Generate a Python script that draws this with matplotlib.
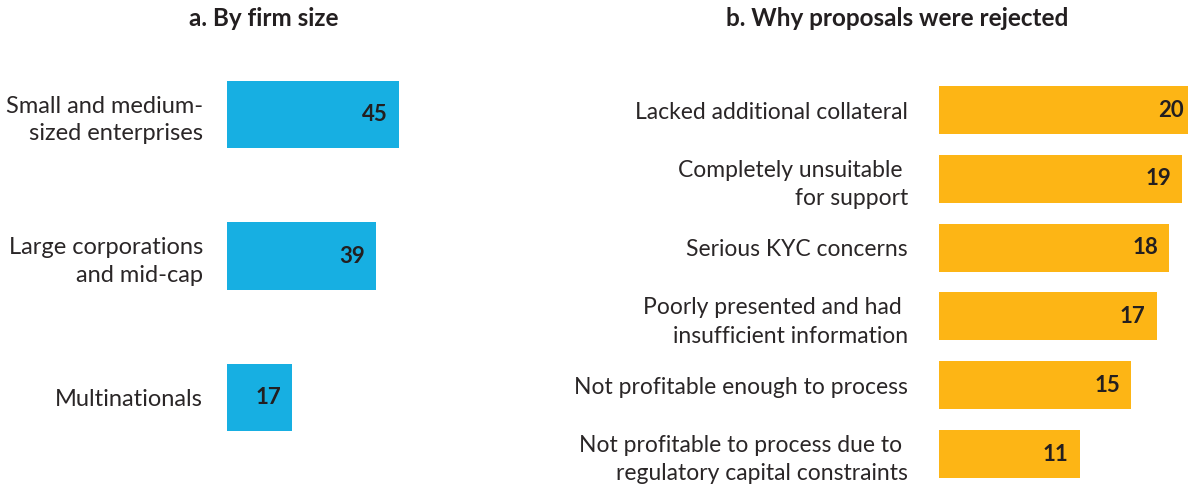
import matplotlib.pyplot as plt

plt.rcParams['font.family'] = ['Lato', 'DejaVu Sans']

# panel a
size_labels = ['Small and medium-\nsized enterprises', 'Large corporations\nand mid-cap', 'Multinationals']
size_values = [45, 39, 17]

# panel b
reason_labels = ['Lacked additional collateral',
                 'Completely unsuitable \nfor support',
                 'Serious KYC concerns',
                 'Poorly presented and had \ninsufficient information',
                 'Not profitable enough to process',
                 'Not profitable to process due to \nregulatory capital constraints']
reason_values = [20, 19, 18, 17, 15, 11]

W, H = 1188, 487
blue = '#17afe2'
orange = '#fdb515'
txt = '#231f20'

fig = plt.figure(figsize=(W / 100, H / 100), dpi=100)


def px_axes(left, top, width, height):
    return fig.add_axes([left / W, (H - top - height) / H, width / W, height / H])


def panel(ax, labels, values, color, xmax, bar_h, lab_size, pad, ls):
    y = list(range(len(values)))
    ax.barh(y, values, height=bar_h, color=color, clip_on=True)
    ax.set_xlim(0, xmax)
    ax.set_ylim(len(values) - 0.5, -0.5)
    ax.set_yticks(y)
    ax.set_yticklabels(labels, fontsize=lab_size, color='#2a2627', linespacing=ls)
    ax.tick_params(axis='y', length=0, pad=pad)
    ax.set_xticks([])
    for s in ax.spines.values():
        s.set_visible(False)
    for yi, v in zip(y, values):
        ax.annotate(str(v), (v, yi), xytext=(-8, 0), textcoords='offset points',
                    ha='right', va='center', fontsize=16, fontweight='bold', color=txt)


# left panel: 45 units -> 172 px
ax1 = px_axes(227, 43.75, 50 * 3.82, 424.5)
panel(ax1, size_labels, size_values, blue, 50, 0.4735, 17, 17.3, 1.39)

# right panel: 20 units -> 256 px
ax2 = px_axes(939, 75.6, 256, 412.8)
panel(ax2, reason_labels, reason_values, orange, 20, 0.698, 16.5, 22.3, 1.42)

fig.text(264 / W, 1 - 19 / H, 'a. By firm size', ha='center', va='center',
         fontsize=17.5, fontweight='bold', color=txt)
fig.text(897 / W, 1 - 19 / H, 'b. Why proposals were rejected', ha='center', va='center',
         fontsize=17.5, fontweight='bold', color=txt)

fig.savefig('out.png', dpi=100)
